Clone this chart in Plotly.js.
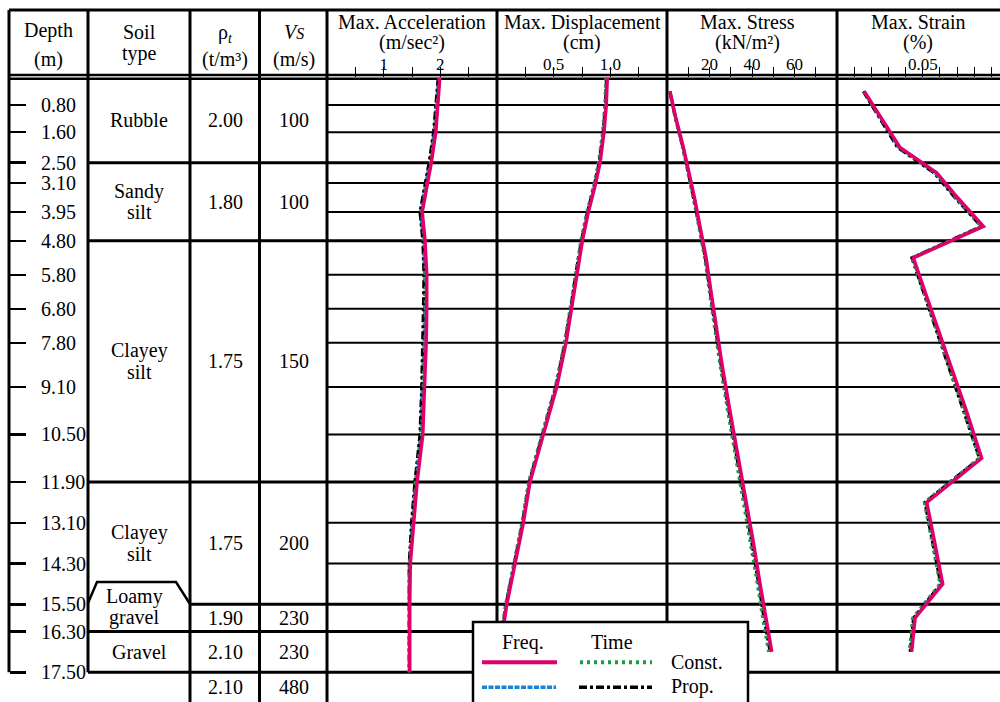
<!DOCTYPE html>
<html><head><meta charset="utf-8">
<script src="https://cdn.plot.ly/plotly-3.0.1.min.js"></script>
<style>body{margin:0;background:#fff}#chart{width:1000px;height:702px}</style>
</head><body><div id="chart"></div>
<script>
// ---------- data ----------
const depthNodes = [0, 0.8, 1.6, 2.5, 3.1, 3.95, 4.8, 5.8, 6.8, 7.8, 9.1, 10.5, 11.9, 13.1, 14.3, 15.5, 16.3, 17.5];
const depthTicks = [0.8, 1.6, 2.5, 3.1, 3.95, 4.8, 5.8, 6.8, 7.8, 9.1, 10.5, 11.9, 13.1, 14.3, 15.5, 16.3, 17.5];
const depthTickText = ['0.80','1.60','2.50','3.10','3.95','4.80','5.80','6.80','7.80','9.10','10.50','11.90','13.10','14.30','15.50','16.30','17.50'];
const depthMid = [0.4, 1.2, 2.05, 2.8, 3.525, 4.375, 5.3, 6.3, 7.3, 8.45, 9.8, 11.2, 12.5, 13.7, 14.9, 15.9, 16.9];

const soilTypes = ['Rubble', 'Sandy<br>silt', 'Clayey<br>silt', 'Clayey<br>silt', 'Loamy<br>gravel', 'Gravel', ''];
const densities = ['2.00', '1.80', '1.75', '1.75', '1.90', '2.10', '2.10'];
const shearVel  = ['100', '100', '150', '200', '230', '230', '480'];
const layerTop    = [0, 2.5, 4.8, 11.9, 15.5, 16.3, 17.5];
const layerBottom = [2.5, 4.8, 11.9, 15.5, 16.3, 17.5, 18.375];

const accelFreqConst = [1.99,1.96,1.92,1.84,1.77,1.68,1.73,1.76,1.76,1.75,1.72,1.69,1.59,1.53,1.47,1.46,1.46,1.46];
const accelTimeConst = [1.98,1.95,1.91,1.83,1.76,1.67,1.72,1.74,1.74,1.73,1.70,1.67,1.57,1.51,1.46,1.45,1.45,1.45];
const accelFreqProp  = [1.97,1.93,1.89,1.81,1.74,1.65,1.70,1.72,1.72,1.71,1.68,1.65,1.56,1.50,1.45,1.45,1.45,1.45];
const accelTimeProp  = [1.96,1.92,1.88,1.80,1.73,1.64,1.69,1.71,1.70,1.69,1.67,1.64,1.55,1.49,1.45,1.45,1.45,1.45];

const dispFreqConst = [0.973,0.964,0.944,0.909,0.871,0.806,0.753,0.703,0.659,0.609,0.527,0.409,0.291,0.232,0.159,0.086,0.050,0.0];
const dispTimeConst = [0.962,0.953,0.933,0.897,0.859,0.794,0.741,0.690,0.646,0.596,0.515,0.397,0.280,0.221,0.149,0.077,0.042,0.0];
const dispFreqProp  = [0.970,0.961,0.941,0.906,0.868,0.803,0.750,0.700,0.656,0.606,0.524,0.406,0.288,0.229,0.156,0.083,0.048,0.0];
const dispTimeProp  = [0.965,0.956,0.936,0.900,0.862,0.797,0.744,0.693,0.649,0.599,0.518,0.400,0.283,0.224,0.152,0.079,0.044,0.0];

const stressFreqConst = [1.4,4.2,7.7,10.4,12.9,15.5,18.4,20.7,23.1,25.9,29.6,33.6,37.4,40.7,43.8,46.4,49.3];
const stressTimeConst = [1.3,4.0,7.4,10.0,12.4,15.0,17.8,20.0,22.3,25.0,28.6,32.5,36.3,39.5,42.6,45.1,47.9];
const stressFreqProp  = [1.4,4.1,7.6,10.3,12.8,15.4,18.2,20.5,22.9,25.7,29.4,33.3,37.1,40.4,43.5,46.1,49.0];
const stressTimeProp  = [1.3,4.0,7.5,10.1,12.6,15.2,18.0,20.2,22.6,25.4,29.0,32.9,36.7,40.0,43.1,45.6,48.5];

const strainFreqConst = [0.0159,0.0260,0.0367,0.0581,0.0702,0.0853,0.0445,0.0513,0.0582,0.0661,0.0754,0.0843,0.0523,0.0570,0.0616,0.0455,0.0435];
const strainTimeConst = [0.0157,0.0257,0.0362,0.0574,0.0693,0.0843,0.0438,0.0505,0.0572,0.0650,0.0741,0.0829,0.0510,0.0556,0.0601,0.0442,0.0422];
const strainFreqProp  = [0.0156,0.0255,0.0360,0.0572,0.0692,0.0845,0.0441,0.0508,0.0577,0.0655,0.0748,0.0836,0.0518,0.0564,0.0610,0.0450,0.0430];
const strainTimeProp  = [0.0153,0.0250,0.0352,0.0566,0.0686,0.0840,0.0436,0.0503,0.0570,0.0648,0.0740,0.0830,0.0512,0.0558,0.0604,0.0446,0.0426];

const accelTickVals = [1, 2],        accelTickText = ['1', '2'];
const dispTickVals = [0.5, 1.0],     dispTickText = ['0.5', '1.0'];
const stressTickVals = [20, 40, 60], stressTickText = ['20', '40', '60'];
const strainTickVals = [0.05],       strainTickText = ['0.05'];

// ---------- styling / layout helpers ----------
const W = 1000, H = 702;
const TOP = 77.8;               // pixel row of depth 0
const DMAX = 18.375;            // depth at bottom edge
const P = px => px / W;
const Q = py => 1 - py / H;
const yPx = d => TOP + d * (H - TOP) / DMAX;
const FONT = '"Liberation Serif", "Times New Roman", serif';

const styles = {
  freqProp:  {color: '#1a84d4', width: 3,   dash: '5px,1.5px'},
  timeProp:  {color: '#000000', width: 3,   dash: '8px,3px,3px,3px'},
  timeConst: {color: '#1b9a45', width: 3.5, dash: '3px,4px'},
  freqConst: {color: '#e0006c', width: 3.5, dash: 'solid'}
};

const panels = [
  {xa: 'x',  depth: depthNodes, fc: accelFreqConst,  tc: accelTimeConst,  fp: accelFreqProp,  tp: accelTimeProp},
  {xa: 'x2', depth: depthNodes, fc: dispFreqConst,   tc: dispTimeConst,   fp: dispFreqProp,   tp: dispTimeProp},
  {xa: 'x3', depth: depthMid,   fc: stressFreqConst, tc: stressTimeConst, fp: stressFreqProp, tp: stressTimeProp},
  {xa: 'x4', depth: depthMid,   fc: strainFreqConst, tc: strainTimeConst, fp: strainFreqProp, tp: strainTimeProp}
];

const traces = [];
panels.forEach(p => {
  [['fp','freqProp'],['tp','timeProp'],['tc','timeConst'],['fc','freqConst']].forEach(([k, s]) => {
    traces.push({type: 'scatter', mode: 'lines', x: p[k], y: p.depth, xaxis: p.xa, yaxis: 'y',
      line: styles[s], hoverinfo: 'skip', showlegend: false});
  });
});

// ---------- shapes ----------
const shapes = [];
function seg(x0, y0, x1, y1, w, layer) {
  shapes.push({type: 'line', xref: 'paper', yref: 'paper', x0: P(x0), y0: Q(y0), x1: P(x1), y1: Q(y1),
    line: {color: '#000', width: w}, layer: layer || 'below'});
}
seg(9, 10, 1000, 10, 3);
seg(9, 75, 1000, 75, 2.5);
seg(9, 78.8, 1000, 78.8, 2.5);
seg(9, 10, 9, yPx(17.5), 3);
seg(88, 10, 88, yPx(17.5), 3);
seg(190, 10, 190, H, 3);
seg(259.5, 10, 259.5, H, 3);
seg(327, 10, 327, H, 3);
seg(497, 10, 497, H, 3);
seg(667, 10, 667, H, 3);
seg(837, 10, 837, yPx(17.5), 3);
const fullRules = [2.5, 4.8, 11.9, 16.3, 17.5];
depthTicks.forEach(d => {
  let x0 = 327, w = 2;
  if (fullRules.includes(d)) { x0 = 88; w = 3; }
  else if (d === 15.5) { x0 = 190; w = 3; }
  shapes.push({type: 'line', xref: 'paper', yref: 'y', x0: P(x0), x1: P(1000), y0: d, y1: d,
    line: {color: '#000', width: w}, layer: 'below'});
});
shapes.push({type: 'path', xref: 'paper', yref: 'paper', layer: 'below',
  path: `M ${P(88)},${Q(603)} L ${P(97)},${Q(582)} L ${P(176)},${Q(582)} L ${P(190)},${Q(604)}`,
  line: {color: '#000', width: 2.5}});
shapes.push({type: 'rect', xref: 'paper', yref: 'paper', x0: P(473), x1: P(748), y0: Q(622), y1: Q(720),
  fillcolor: '#fff', line: {color: '#000', width: 2.5}, layer: 'above'});
function legLine(x0, x1, y, st) {
  shapes.push({type: 'line', xref: 'paper', yref: 'paper', x0: P(x0), x1: P(x1), y0: Q(y), y1: Q(y),
    line: {color: st.color, width: st.width + 0.5, dash: st.dash}, layer: 'above'});
}
legLine(482, 557, 662.3, styles.freqConst);
legLine(580, 652, 662.3, styles.timeConst);
legLine(482, 556, 687.3, styles.freqProp);
legLine(579, 652, 687.3, styles.timeProp);

// ---------- annotations ----------
const ann = [];
function txt(x, y, t, opts) {
  ann.push(Object.assign({xref: 'paper', yref: 'paper', x: P(x), y: Q(y), text: t, showarrow: false,
    xanchor: 'center', yanchor: 'middle', font: {family: FONT, size: 20, color: '#000'}}, opts || {}));
}
txt(48, 31, 'Depth'); txt(48, 59, '(m)');
txt(139, 32, 'Soil'); txt(139, 54, 'type');
txt(225, 33, 'ρ<i><sub>t</sub></i>'); txt(225, 59, '(t/m³)');
txt(294, 32, '<i>V<span style="font-size:16px">S</span></i>'); txt(294, 59, '(m/s)');
txt(412, 22, 'Max. Acceleration'); txt(412, 42, '(m/sec²)');
txt(582, 22, 'Max. Displacement'); txt(582, 42, '(cm)');
txt(747, 22, 'Max. Stress'); txt(747, 42, '(kN/m²)');
txt(918, 22, 'Max. Strain'); txt(918, 42, '(%)');
soilTypes.forEach((s, i) => {
  const yc = yPx((layerTop[i] + layerBottom[i]) / 2);
  const parts = s.split('<br>');
  const sx = (i === 4) ? 134 : 139;
  const syc = (i === 4) ? yc - 10.5 : yc;
  if (parts.length === 2) {
    txt(sx, syc - 10.5, parts[0]); txt(sx, syc + 10.5, parts[1]);
  } else if (parts[0]) {
    txt(sx, syc, parts[0]);
  }
  txt(225, yc, densities[i]);
  txt(294, yc, shearVel[i]);
});
txt(523, 642, 'Freq.'); txt(612, 642, 'Time');
txt(669, 662, 'Const.', {xanchor: 'left'});
txt(669, 686, 'Prop.', {xanchor: 'left'});

// ---------- axes ----------
function xaxis(d0, d1, range, vals, texts, minorStep) {
  return {domain: [P(d0), P(d1)], range: range, anchor: 'y', side: 'top', showgrid: false, zeroline: false,
    showline: false, ticks: 'outside', ticklen: 10, tickwidth: 1, tickcolor: '#000',
    tickvals: vals, ticktext: texts, ticklabelstandoff: -10,
    minor: {dtick: minorStep, tick0: 0, ticks: 'outside', ticklen: 10, tickwidth: 1, tickcolor: '#000', showgrid: false},
    tickfont: {family: FONT, size: 17, color: '#000'}, fixedrange: true};
}

const layout = {
  width: W, height: H, margin: {l: 0, r: 0, t: 0, b: 0},
  paper_bgcolor: '#fff', plot_bgcolor: 'rgba(0,0,0,0)', showlegend: false,
  xaxis:  xaxis(327, 497, [0, 3.0], accelTickVals, accelTickText, 0.5),
  xaxis2: xaxis(497, 667, [0, 1.5], dispTickVals, dispTickText, 0.25),
  xaxis3: xaxis(667, 837, [0, 80], stressTickVals, stressTickText, 10),
  xaxis4: xaxis(837, 1000, [0, 0.095], strainTickVals, strainTickText, 0.01),
  yaxis: {domain: [0, Q(TOP)], range: [DMAX, 0], anchor: 'free', position: P(9), side: 'right',
    showgrid: false, zeroline: false, showline: false, ticks: 'outside', ticklen: 16, tickwidth: 2.5,
    tickcolor: '#000', tickvals: depthTicks, ticktext: depthTickText, ticklabelstandoff: 11,
    tickfont: {family: FONT, size: 20, color: '#000'}, fixedrange: true},
  shapes: shapes,
  annotations: ann
};

Plotly.newPlot('chart', traces, layout, {staticPlot: true});
</script>
</body></html>
